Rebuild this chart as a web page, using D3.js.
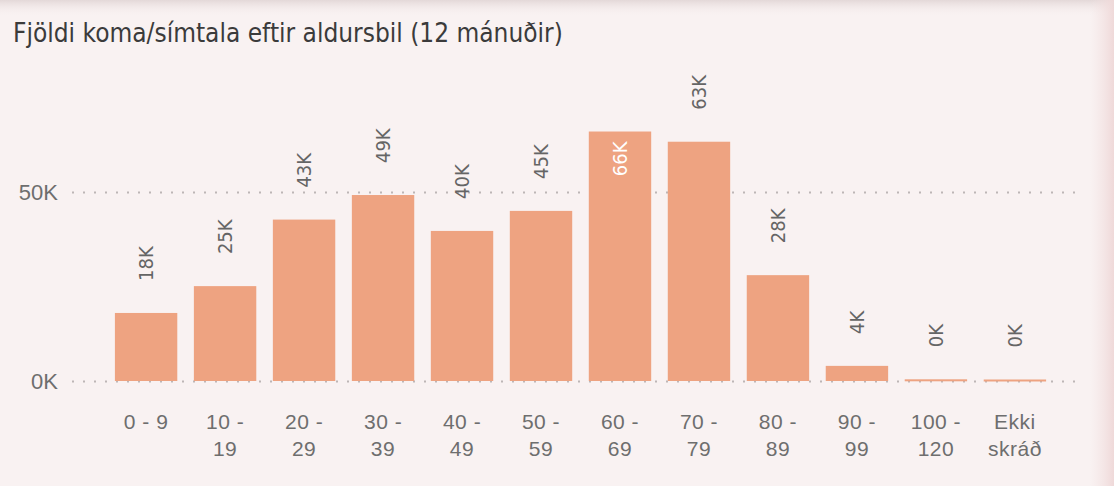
<!DOCTYPE html>
<html>
<head>
<meta charset="utf-8">
<script src="https://cdn.jsdelivr.net/npm/d3@7"></script>
<style>
  html, body { margin: 0; padding: 0; background: #f8efef; }
  svg { display: block; font-family: "DejaVu Sans Condensed", "DejaVu Sans", sans-serif; }
</style>
</head>
<body>
<svg width="1114" height="486"></svg>
<script>
// age bands and visits/calls per band (last 12 months)
const categories = ["0 - 9", "10 - 19", "20 - 29", "30 - 39", "40 - 49", "50 - 59",
    "60 - 69", "70 - 79", "80 - 89", "90 - 99", "100 - 120", "Ekki skráð"];
const visits = [18000, 25100, 42700, 49200, 39700, 45000, 66000, 63300, 28000, 4000, 450, 400];
const yTicks = [0, 50000];
const title = "Fjöldi koma/símtala eftir aldursbil (12 mánuðir)";

const svg = d3.select("svg");
const width = +svg.attr("width");
const height = +svg.attr("height");

// soft background, the original sits on a blurred photo
const defs = svg.append("defs");
const topGrad = defs.append("linearGradient").attr("id", "topfade")
    .attr("x1", 0).attr("y1", 0).attr("x2", 0).attr("y2", 1);
topGrad.append("stop").attr("offset", 0).attr("stop-color", "#e3d8d8");
topGrad.append("stop").attr("offset", 1).attr("stop-color", "#f8efef").attr("stop-opacity", 0);
const rightGrad = defs.append("linearGradient").attr("id", "rightfade")
    .attr("x1", 0).attr("y1", 0).attr("x2", 1).attr("y2", 0);
rightGrad.append("stop").attr("offset", 0).attr("stop-color", "#f3e2e2").attr("stop-opacity", 0);
rightGrad.append("stop").attr("offset", 1).attr("stop-color", "#efd9d9");

svg.append("rect").attr("width", width).attr("height", height).attr("fill", "#f9f2f2");
svg.append("rect").attr("width", width).attr("height", 16).attr("fill", "url(#topfade)");
svg.append("rect").attr("x", 1090).attr("width", 24).attr("height", height).attr("fill", "url(#rightfade)");

svg.append("text")
    .attr("x", 13)
    .attr("y", 42)
    .attr("fill", "#3b3b3b")
    .style("font-size", "26px")
    .text(title);

const margin = { left: 72 };
const baseY = 381;

const x = d3.scaleBand()
    .domain(categories)
    .range([107, 1054])
    .paddingInner(0.21)
    .paddingOuter(0.1);

const y = d3.scaleLinear()
    .domain([0, 70000])
    .range([baseY, baseY - 70000 * 189 / 50000]);

// y axis with dotted gridlines
const yAxis = svg.append("g")
    .attr("transform", `translate(${margin.left},0)`)
    .call(d3.axisLeft(y)
        .tickValues(yTicks)
        .tickFormat(d => d / 1000 + "K")
        .tickSize(-(1082 - margin.left))
        .tickPadding(14));
yAxis.select(".domain").remove();
yAxis.selectAll(".tick line")
    .attr("stroke", "#bdb6b6")
    .attr("stroke-width", 1.8)
    .attr("stroke-dasharray", "2,9");
yAxis.selectAll(".tick text")
    .attr("fill", "#6e6e6e")
    .style("font-size", "22px");

// bars
svg.append("g")
    .selectAll("rect")
    .data(visits)
    .join("rect")
    .attr("x", (d, i) => x(categories[i]))
    .attr("y", d => y(d))
    .attr("width", x.bandwidth())
    .attr("height", d => Math.max(y(0) - y(d), 2))
    .attr("fill", "#eea381");

// x axis labels, wrapped to two lines like the original
const xAxis = svg.append("g")
    .attr("transform", `translate(0,${baseY})`)
    .call(d3.axisBottom(x).tickSize(0));
xAxis.select(".domain").remove();
xAxis.selectAll(".tick text")
    .attr("fill", "#6e6e6e")
    .style("font-size", "21px")
    .style("letter-spacing", "0.5px")
    .call(wrap, x.bandwidth());

function wrap(texts, maxWidth) {
    texts.each(function () {
        const text = d3.select(this);
        const words = text.text().split(/\s+/);
        text.text(null).attr("y", 48).attr("dy", null);
        let line = [];
        let tspan = text.append("tspan").attr("x", 0).attr("y", 48);
        words.forEach(word => {
            line.push(word);
            tspan.text(line.join(" "));
            if (line.length > 1 && tspan.node().getComputedTextLength() > maxWidth) {
                line.pop();
                tspan.text(line.join(" "));
                line = [word];
                tspan = text.append("tspan").attr("x", 0).attr("dy", 27).text(word);
            }
        });
    });
}

// rotated value labels, above the bar or inside when there is no room
const labels = svg.append("g")
    .selectAll("text")
    .data(visits)
    .join("text")
    .style("font-size", "20px")
    .attr("dy", "0.35em")
    .text(d => Math.round(d / 1000) + "K");

labels.each(function (d, i) {
    const t = d3.select(this);
    const len = this.getComputedTextLength();
    const cx = x(categories[i]) + x.bandwidth() / 2;
    const top = y(d);
    if (top - 32 - len < 70) {
        t.attr("text-anchor", "end").attr("fill", "#ffffff")
            .attr("transform", `translate(${cx},${top + 10}) rotate(-90)`);
    } else {
        t.attr("text-anchor", "start").attr("fill", "#656565")
            .attr("transform", `translate(${cx},${top - 32}) rotate(-90)`);
    }
});
</script>
</body>
</html>
